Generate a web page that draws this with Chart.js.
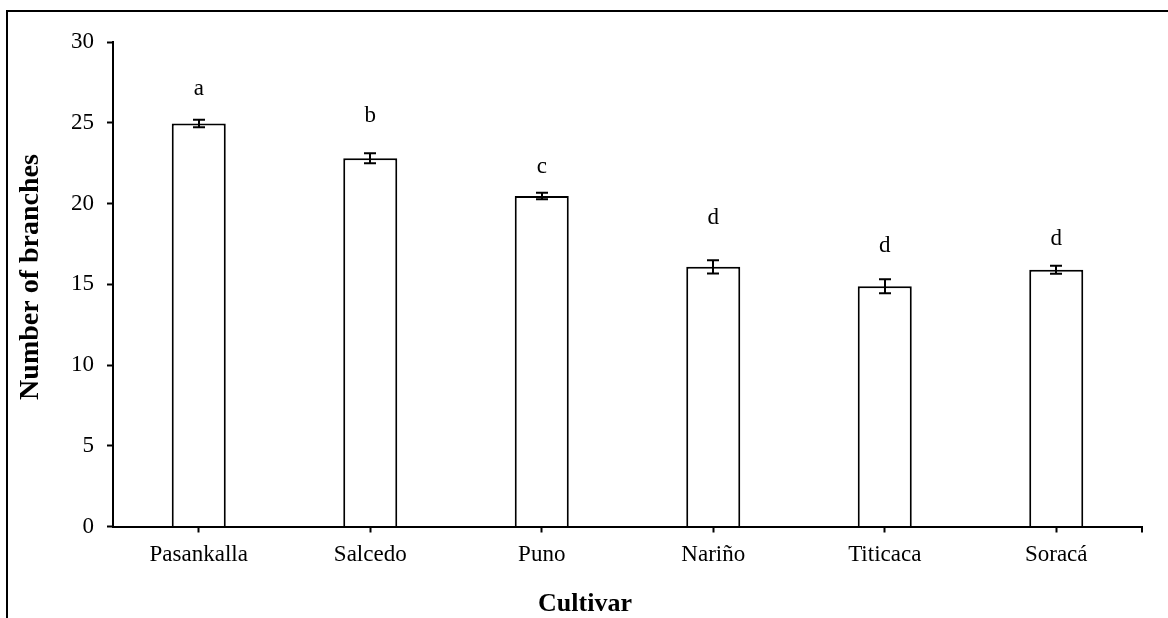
<!DOCTYPE html>
<html>
<head>
<meta charset="utf-8">
<script src="https://cdn.jsdelivr.net/npm/chart.js@4/dist/chart.umd.min.js"></script>
<style>
  html, body { margin: 0; padding: 0; background: #fff; }
  #wrap { width: 1168px; height: 618px; position: relative; }
</style>
</head>
<body>
<div id="wrap"><canvas id="c" width="1168" height="618"></canvas></div>
<script>
// Mean number of branches per cultivar, with standard error
const cultivars = ['Pasankalla', 'Salcedo', 'Puno', 'Nariño', 'Titicaca', 'Soracá'];
const branches = [24.95, 22.8, 20.47, 16.08, 14.88, 15.9];
const branchesSE = [0.23, 0.31, 0.2, 0.41, 0.43, 0.25];
// Mean separation letters and the axis level each one sits on
const groups = ['a', 'b', 'c', 'd', 'd', 'd'];
const groupLevel = [26.7, 25.06, 21.86, 18.76, 17.0, 17.42];
const yMin = 0, yMax = 30, yStep = 5;

const SERIF = '"Liberation Serif", "Times New Roman", serif';
const INK = '#000';

// Outer frame around the figure (top and left edges)
const framePlugin = {
  id: 'frame',
  beforeDraw(chart) {
    const ctx = chart.ctx;
    ctx.save();
    ctx.fillStyle = '#fff';
    ctx.fillRect(0, 0, chart.width, chart.height);
    ctx.strokeStyle = INK;
    ctx.lineWidth = 2;
    ctx.beginPath();
    ctx.moveTo(7, chart.height);
    ctx.lineTo(7, 11);
    ctx.lineTo(chart.width, 11);
    ctx.stroke();
    ctx.restore();
  }
};

// Error bars with caps
const errorBarPlugin = {
  id: 'errorBars',
  afterDatasetsDraw(chart) {
    const ctx = chart.ctx;
    const y = chart.scales.y;
    const meta = chart.getDatasetMeta(0);
    ctx.save();
    ctx.strokeStyle = INK;
    ctx.lineWidth = 2;
    meta.data.forEach((bar, i) => {
      const x = Math.round(bar.x);
      const hi = y.getPixelForValue(branches[i] + branchesSE[i]);
      const lo = y.getPixelForValue(branches[i] - branchesSE[i]);
      ctx.beginPath();
      ctx.moveTo(x, hi); ctx.lineTo(x, lo);
      ctx.moveTo(x - 6, hi); ctx.lineTo(x + 6, hi);
      ctx.moveTo(x - 6, lo); ctx.lineTo(x + 6, lo);
      ctx.stroke();
    });
    ctx.restore();
  }
};

// Significance letters above the bars
const letterPlugin = {
  id: 'groupLetters',
  afterDatasetsDraw(chart) {
    const ctx = chart.ctx;
    const y = chart.scales.y;
    const meta = chart.getDatasetMeta(0);
    ctx.save();
    ctx.fillStyle = INK;
    ctx.font = '23px ' + SERIF;
    ctx.textAlign = 'center';
    ctx.textBaseline = 'alphabetic';
    meta.data.forEach((bar, i) => {
      ctx.fillText(groups[i], bar.x, y.getPixelForValue(groupLevel[i]));
    });
    ctx.restore();
  }
};

// Axis titles and the closing tick at the right end of the category axis
const axisDecorPlugin = {
  id: 'axisDecor',
  afterDraw(chart) {
    const ctx = chart.ctx;
    const a = chart.chartArea;
    ctx.save();
    ctx.strokeStyle = INK;
    ctx.lineWidth = 2;
    ctx.beginPath();
    ctx.moveTo(a.right, a.bottom);
    ctx.lineTo(a.right, a.bottom + 6);
    ctx.stroke();

    ctx.fillStyle = INK;
    ctx.textAlign = 'center';
    ctx.textBaseline = 'middle';
    ctx.font = 'bold 26px ' + SERIF;
    ctx.fillText('Cultivar', 585, 604);

    ctx.font = 'bold 28px ' + SERIF;
    ctx.translate(31, 277);
    ctx.rotate(-Math.PI / 2);
    ctx.fillText('Number of branches', 0, 0);
    ctx.restore();
  }
};

new Chart(document.getElementById('c'), {
  type: 'bar',
  data: {
    labels: cultivars,
    datasets: [{
      data: branches,
      backgroundColor: '#fff',
      borderColor: INK,
      borderWidth: 2,
      borderSkipped: 'start',
      categoryPercentage: 1,
      barPercentage: 0.315
    }]
  },
  options: {
    responsive: false,
    animation: false,
    devicePixelRatio: 1,
    layout: { padding: { top: 42, right: 26, bottom: 0, left: 0 } },
    plugins: {
      legend: { display: false },
      tooltip: { enabled: false },
      title: { display: false }
    },
    scales: {
      x: {
        offset: true,
        grid: {
          offset: false,
          drawOnChartArea: false,
          drawTicks: true,
          tickLength: 6,
          tickWidth: 2,
          tickColor: INK
        },
        border: { display: true, color: INK, width: 2 },
        ticks: {
          color: INK,
          font: { family: SERIF, size: 23 },
          padding: 9,
          maxRotation: 0
        },
        afterFit(scale) { scale.height = 91.5; }
      },
      y: {
        min: yMin,
        max: yMax,
        grid: {
          drawOnChartArea: false,
          drawTicks: true,
          tickLength: 6,
          tickWidth: 2,
          tickColor: INK
        },
        border: { display: true, color: INK, width: 2 },
        ticks: {
          stepSize: yStep,
          color: INK,
          font: { family: SERIF, size: 23 },
          padding: 13
        },
        afterFit(scale) { scale.width = 113; }
      }
    }
  },
  plugins: [framePlugin, errorBarPlugin, letterPlugin, axisDecorPlugin]
});
</script>
</body>
</html>
